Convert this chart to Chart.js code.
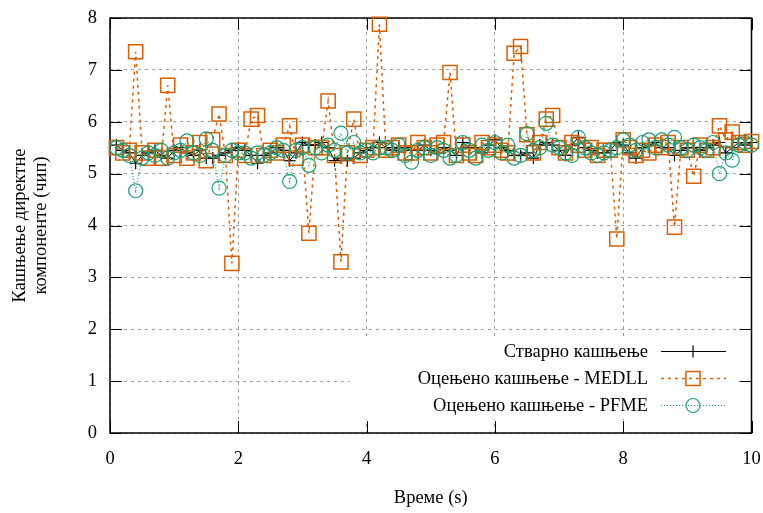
<!DOCTYPE html>
<html>
<head>
<meta charset="utf-8">
<script src="https://cdn.jsdelivr.net/npm/chart.js@4/dist/chart.umd.min.js"></script>
<style>
  body { margin: 0; background: #fff; }
  canvas { display: block; }
</style>
</head>
<body>
<canvas id="myChart" width="763" height="513"></canvas>
<script>
// time axis (s)
const times = [
  0.1, 0.2, 0.3, 0.4, 0.5, 0.6, 0.7, 0.8, 0.9, 1.0,
  1.1, 1.2, 1.3, 1.4, 1.5, 1.6, 1.7, 1.8, 1.9, 2.0,
  2.1, 2.2, 2.3, 2.4, 2.5, 2.6, 2.7, 2.8, 2.9, 3.0,
  3.1, 3.2, 3.3, 3.4, 3.5, 3.6, 3.7, 3.8, 3.9, 4.0,
  4.1, 4.2, 4.3, 4.4, 4.5, 4.6, 4.7, 4.8, 4.9, 5.0,
  5.1, 5.2, 5.3, 5.4, 5.5, 5.6, 5.7, 5.8, 5.9, 6.0,
  6.1, 6.2, 6.3, 6.4, 6.5, 6.6, 6.7, 6.8, 6.9, 7.0,
  7.1, 7.2, 7.3, 7.4, 7.5, 7.6, 7.7, 7.8, 7.9, 8.0,
  8.1, 8.2, 8.3, 8.4, 8.5, 8.6, 8.7, 8.8, 8.9, 9.0,
  9.1, 9.2, 9.3, 9.4, 9.5, 9.6, 9.7, 9.8, 9.9, 10.0
];

// true delay (chips)
const trueDelay = [
  5.55, 5.45, 5.40, 5.20, 5.35, 5.40, 5.45, 5.35, 5.30, 5.45,
  5.50, 5.40, 5.35, 5.45, 5.30, 5.30, 5.35, 5.40, 5.45, 5.50,
  5.45, 5.35, 5.20, 5.35, 5.40, 5.50, 5.45, 5.25, 5.40, 5.60,
  5.55, 5.55, 5.60, 5.50, 5.25, 5.30, 5.25, 5.30, 5.40, 5.45,
  5.50, 5.60, 5.50, 5.45, 5.50, 5.50, 5.45, 5.45, 5.55, 5.45,
  5.40, 5.50, 5.45, 5.35, 5.60, 5.50, 5.50, 5.40, 5.55, 5.65,
  5.50, 5.45, 5.35, 5.35, 5.40, 5.30, 5.55, 5.60, 5.55, 5.45,
  5.35, 5.55, 5.70, 5.50, 5.45, 5.40, 5.40, 5.45, 5.60, 5.55,
  5.40, 5.30, 5.50, 5.55, 5.60, 5.50, 5.50, 5.35, 5.45, 5.50,
  5.50, 5.45, 5.50, 5.55, 5.60, 5.40, 5.50, 5.60, 5.55, 5.60
];

// MEDLL estimate
const medllDelay = [
  5.50, 5.40, 5.45, 7.35, 5.40, 5.30, 5.45, 5.30, 6.70, 5.35,
  5.55, 5.30, 5.40, 5.60, 5.25, 5.65, 6.15, 5.35, 3.27, 5.45,
  5.35, 6.05, 6.12, 5.35, 5.45, 5.40, 5.55, 5.92, 5.30, 5.55,
  3.85, 5.50, 5.50, 6.40, 5.35, 3.30, 5.40, 6.05, 5.35, 5.45,
  5.50, 7.88, 5.45, 5.50, 5.55, 5.40, 5.40, 5.60, 5.50, 5.40,
  5.55, 5.60, 6.95, 5.35, 5.55, 5.40, 5.35, 5.60, 5.50, 5.55,
  5.45, 5.40, 7.32, 7.45, 5.75, 5.40, 5.60, 6.05, 6.12, 5.50,
  5.40, 5.60, 5.55, 5.45, 5.50, 5.35, 5.45, 5.45, 3.74, 5.65,
  5.50, 5.35, 5.45, 5.40, 5.55, 5.50, 5.60, 3.97, 5.50, 5.45,
  4.95, 5.55, 5.45, 5.50, 5.92, 5.65, 5.80, 5.60, 5.55, 5.62
];

// PFME estimate
const pfmeDelay = [
  5.50, 5.45, 5.35, 4.67, 5.30, 5.40, 5.35, 5.45, 5.30, 5.40,
  5.45, 5.63, 5.40, 5.35, 5.67, 5.45, 4.72, 5.35, 5.45, 5.40,
  5.40, 5.30, 5.40, 5.35, 5.40, 5.50, 5.45, 4.85, 5.45, 5.50,
  5.16, 5.50, 5.40, 5.55, 5.45, 5.78, 5.40, 5.60, 5.40, 5.45,
  5.40, 5.50, 5.50, 5.45, 5.55, 5.35, 5.22, 5.45, 5.50, 5.35,
  5.50, 5.45, 5.30, 5.35, 5.60, 5.45, 5.30, 5.55, 5.45, 5.60,
  5.40, 5.55, 5.30, 5.35, 5.77, 5.45, 5.50, 5.97, 5.55, 5.50,
  5.40, 5.35, 5.70, 5.50, 5.40, 5.35, 5.40, 5.45, 5.50, 5.65,
  5.55, 5.45, 5.60, 5.65, 5.50, 5.65, 5.55, 5.70, 5.50, 5.45,
  5.55, 5.50, 5.45, 5.60, 5.00, 5.40, 5.26, 5.55, 5.60, 5.55
];

const xTicks = [0, 2, 4, 6, 8, 10];
const yTicks = [0, 1, 2, 3, 4, 5, 6, 7, 8];

const serif = "'Liberation Serif', 'DejaVu Serif', serif";
const fontSize = 18.5;

function points(ys) {
  return times.map((t, i) => ({ x: t, y: ys[i] }));
}

// gnuplot-like frame: white legend box, solid border and inward mirrored ticks
const framePlugin = {
  id: 'frame',
  beforeDatasetsDraw(chart) {
    const { ctx, chartArea: a, scales } = chart;
    ctx.save();
    // legend box covers the grid underneath it
    ctx.fillStyle = '#fff';
    ctx.fillRect(350, 337, a.right - 350, 82);

    ctx.strokeStyle = '#000';
    ctx.lineWidth = 1;
    ctx.setLineDash([]);
    ctx.beginPath();
    const tl = 12;
    xTicks.forEach(v => {
      const x = Math.round(scales.x.getPixelForValue(v)) + 0.5;
      ctx.moveTo(x, a.bottom); ctx.lineTo(x, a.bottom - tl);
      ctx.moveTo(x, a.top); ctx.lineTo(x, a.top + tl);
    });
    yTicks.forEach(v => {
      const y = Math.round(scales.y.getPixelForValue(v)) + 0.5;
      ctx.moveTo(a.left, y); ctx.lineTo(a.left + tl, y);
      ctx.moveTo(a.right, y); ctx.lineTo(a.right - tl, y);
    });
    ctx.stroke();
    ctx.lineWidth = 1.5;
    ctx.strokeRect(a.left, a.top, a.right - a.left, a.bottom - a.top);

    // y axis title, two lines centred on the plot
    ctx.fillStyle = '#000';
    ctx.font = fontSize + 'px ' + serif;
    ctx.textAlign = 'center';
    ctx.textBaseline = 'middle';
    ctx.translate(31, (a.top + a.bottom) / 2);
    ctx.rotate(-Math.PI / 2);
    ctx.fillText('Кашњење директне', 0, -10.5);
    ctx.fillText('компоненте (чип)', 0, 10.5);
    ctx.restore();
  },
  afterDatasetsDraw(chart) {
    const { ctx } = chart;
    ctx.save();
    ctx.font = fontSize + 'px ' + serif;
    ctx.textAlign = 'right';
    ctx.textBaseline = 'middle';
    chart.data.datasets.forEach((ds, i) => {
      const y = 351 + i * 27;
      ctx.fillStyle = '#000';
      ctx.fillText(ds.label, 648, y + 1);
      ctx.strokeStyle = ds.borderColor;
      ctx.lineWidth = ds.borderWidth;
      ctx.setLineDash(ds.borderDash || []);
      ctx.beginPath();
      ctx.moveTo(661, y + 0.5);
      ctx.lineTo(726, y + 0.5);
      ctx.stroke();
      ctx.setLineDash([]);
      ctx.fillStyle = 'rgba(0,0,0,0)';
      ctx.lineWidth = ds.pointBorderWidth;
      Chart.helpers.drawPoint(ctx, {
        pointStyle: ds.pointStyle,
        radius: ds.pointRadius,
        rotation: 0,
        borderWidth: ds.pointBorderWidth
      }, 693, y + 0.5);
    });
    ctx.restore();
  }
};

const config = {
  type: 'line',
  data: {
    datasets: [
      {
        label: 'Стварно кашњење',
        data: points(trueDelay),
        borderColor: '#000000',
        borderWidth: 1,
        pointStyle: 'cross',
        pointRadius: 6,
        pointBorderWidth: 1.2,
        pointBorderColor: '#000000',
        order: 2
      },
      {
        label: 'Оцењено кашњење - MEDLL',
        data: points(medllDelay),
        borderColor: '#d95f02',
        borderWidth: 1.5,
        borderDash: [3, 4],
        pointStyle: 'rect',
        pointRadius: 10,
        pointBorderWidth: 1.5,
        pointBorderColor: '#d95f02',
        order: 1
      },
      {
        label: 'Оцењено кашњење - PFME',
        data: points(pfmeDelay),
        borderColor: '#1b9e77',
        borderWidth: 1.2,
        borderDash: [1, 2],
        pointStyle: 'circle',
        pointRadius: 7,
        pointBorderWidth: 1.2,
        pointBorderColor: '#1b9e77',
        order: 0
      }
    ]
  },
  options: {
    responsive: false,
    animation: false,
    layout: { padding: { left: 0, right: 11, top: 18, bottom: 2 } },
    elements: {
      line: { tension: 0, fill: false },
      point: { backgroundColor: 'rgba(0,0,0,0)', hoverRadius: 7 }
    },
    datasets: { line: { clip: false, pointBackgroundColor: 'rgba(0,0,0,0)' } },
    scales: {
      x: {
        type: 'linear',
        min: 0,
        max: 10,
        afterFit: s => { s.height = 78; s.paddingLeft = 0; s.paddingRight = 0; },
        afterBuildTicks: s => { s.ticks = xTicks.map(v => ({ value: v })); },
        ticks: { color: '#000', font: { family: serif, size: fontSize }, padding: 15, maxRotation: 0 },
        grid: { color: '#a0a0a0', lineWidth: 1, drawTicks: false },
        border: { display: false, dash: [3, 4] },
        title: { display: true, text: 'Време (s)', color: '#000', font: { family: serif, size: fontSize }, padding: 2 }
      },
      y: {
        min: 0,
        max: 8,
        afterFit: s => { s.width = 110; s.paddingTop = 0; s.paddingBottom = 0; },
        afterBuildTicks: s => { s.ticks = yTicks.map(v => ({ value: v })); },
        ticks: { color: '#000', font: { family: serif, size: fontSize }, padding: 13 },
        grid: { color: '#a0a0a0', lineWidth: 1, drawTicks: false },
        border: { display: false, dash: [3, 4] }
      }
    },
    plugins: {
      legend: { display: false },
      tooltip: { enabled: false }
    }
  },
  plugins: [framePlugin]
};

const myChart = new Chart(document.getElementById('myChart'), config);
</script>
</body>
</html>
